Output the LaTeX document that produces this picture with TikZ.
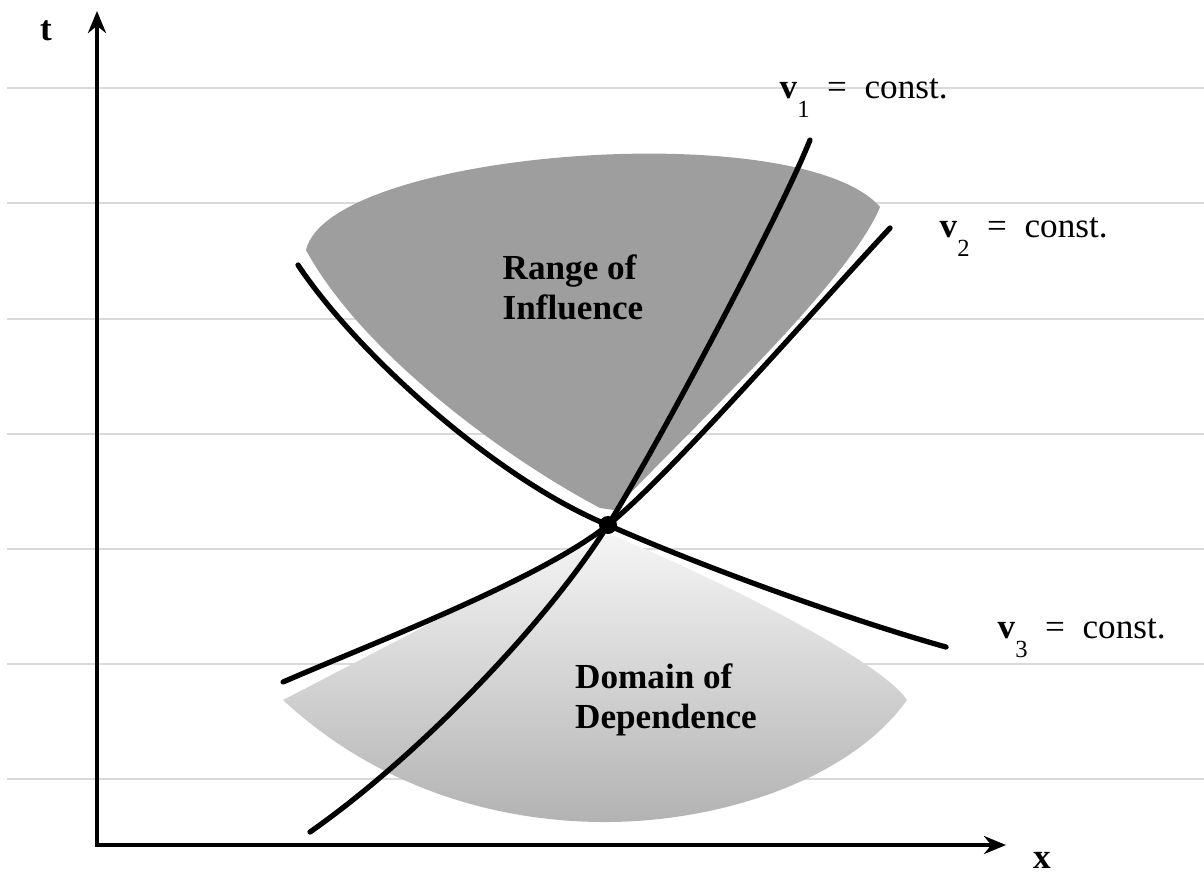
\documentclass[tikz,border=0pt]{standalone}
\usepackage{fontspec}
\setmainfont{Liberation Serif}
\usetikzlibrary{arrows.meta}
\tikzset{
  axis/.style={line width=1.15pt, {Stealth[length=2.2mm,width=1.8mm]}-{Stealth[length=2.2mm,width=1.8mm]}},
  charline/.style={line width=1.5pt, line cap=round},
  ruling/.style={black!15, line width=0.4pt},
  regionlabel/.style={font=\fontsize{10}{11.4}\selectfont\bfseries, align=left, inner sep=0pt},
  vlabel/.style={font=\fontsize{10}{12}\selectfont, anchor=base west, inner sep=0pt}
}
\newcommand{\vconst}[1]{\textbf{v}\raisebox{-5.5pt}{\scriptsize #1}\enspace=\enspace const.}

\begin{document}
\begin{tikzpicture}[x=0.01cm, y=-0.01cm]
    \useasboundingbox (0,0) rectangle (1204,872);
    % ruled paper lines
    \foreach \yy in {88,203,319,434,549,664,779}
        \draw[ruling] (7,\yy) -- (1204,\yy);

    % Range of influence
    \fill[black!38] (600,508) .. controls (500,455) and (360,350) .. (306,250)
        .. controls (330,150) and (800,115) .. (880,207)
        .. controls (850,280) and (700,420) .. (614,510) -- cycle;
    % Domain of dependence
    \shade[top color=black!4, bottom color=black!30] (610,535) .. controls (520,575) and (380,650) .. (283,700)
        .. controls (380,790) and (500,822) .. (605,822)
        .. controls (720,822) and (850,780) .. (907,700)
        .. controls (880,660) and (720,580) .. (612,535) -- cycle;

    % Axes
    \coordinate (O) at (97,845);
    \coordinate (ttip) at (97,11);
    \coordinate (xtip) at (1006,845);
    \draw[axis] (ttip) -- (O) -- (xtip);
    \node[font=\bfseries] (tlab) at (46,31) {t};
    \node[font=\bfseries] (xlab) at (1042,860) {x};

    % Characteristics through the point
    \node[circle, fill, inner sep=0pt, minimum size=1.8mm] (P) at (608,525) {};
    \draw[charline] (310,832) .. controls (420,755) and (548,621) .. (P.center)
        .. controls (658,445) and (780,215) .. (810,140);
    \draw[charline] (283,682) .. controls (363,647) and (538,581) .. (P.center)
        .. controls (668,477) and (810,314) .. (890,228);
    \draw[charline] (298,265) .. controls (358,355) and (498,480) .. (P.center)
        .. controls (698,565) and (846,619) .. (946,647);

    % Labels
    \node[vlabel] (v1lab) at (779,98) {\vconst{1}};
    \node[vlabel] (v2lab) at (939,237) {\vconst{2}};
    \node[vlabel] (v3lab) at (997,638) {\vconst{3}};
    \node[regionlabel] (range) at (573,287) {Range of\\Influence};
    \node[regionlabel] (domain) at (666,700) {Domain of\\Dependence};
\end{tikzpicture}
\end{document}
